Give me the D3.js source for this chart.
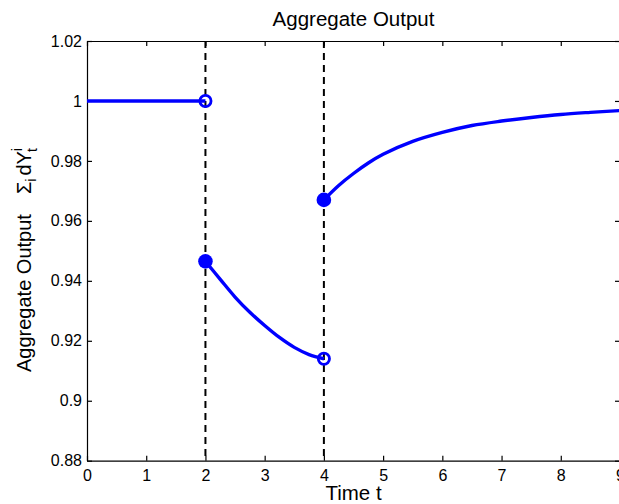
<!doctype html>
<html lang="en">
  <head>
    <meta charset="UTF-8" />
    <title>Aggregate Output</title>
    <script src="https://unpkg.com/d3@7.9.0/dist/d3.min.js"></script>
    <style>
      body {
        margin: 0;
        background: #fff;
      }
      svg {
        font-family: 'Liberation Sans', Arial, Helvetica, sans-serif;
      }
      .axis path,
      .axis line {
        stroke: #000;
        stroke-width: 1.2px;
      }
      .axis text {
        font-size: 16px;
        fill: #000;
      }
    </style>
  </head>
  <body>
    <div id="chart"></div>
    <script>
      // before the first shock
      const preTime = [0, 2];
      const preOutput = [1, 1];

      // between the two shocks
      const midTime = [2, 2.25, 2.5, 2.75, 3, 3.25, 3.5, 3.75, 4];
      const midOutput = [0.9465, 0.9405, 0.9346, 0.9295, 0.9251, 0.9211, 0.9178, 0.9154, 0.914];

      // after the second shock
      const postTime = [4, 4.25, 4.5, 4.75, 5, 5.5, 6, 6.5, 7, 7.5, 8, 8.5, 9];
      const postOutput = [0.967, 0.9718, 0.9758, 0.9793, 0.9822, 0.9865, 0.9895, 0.9918, 0.9933, 0.9945, 0.9955, 0.9962, 0.9968];

      const shockTimes = [2, 4];
      const xTicks = [0, 1, 2, 3, 4, 5, 6, 7, 8, 9];
      const yTicks = [0.88, 0.9, 0.92, 0.94, 0.96, 0.98, 1, 1.02];

      const width = 619;
      const height = 504;
      const plot = { left: 87, right: 620, top: 41, bottom: 460.7 };
      const blue = '#0000ff';

      const svg = d3
        .select('#chart')
        .append('svg')
        .attr('width', width)
        .attr('height', height);

      const x = d3.scaleLinear().domain([0, 9]).range([plot.left, plot.right]);
      const y = d3.scaleLinear().domain([0.88, 1.02]).range([plot.bottom, plot.top]);

      // box and inward ticks, matlab style
      svg
        .append('g')
        .attr('class', 'axis')
        .attr('transform', `translate(0,${plot.bottom})`)
        .call(
          d3.axisBottom(x).tickValues(xTicks).tickFormat(d3.format('d'))
            .tickSizeInner(-5).tickSizeOuter(0).tickPadding(9),
        );

      svg
        .append('g')
        .attr('class', 'axis')
        .attr('transform', `translate(0,${plot.top})`)
        .call(
          d3.axisTop(x).tickValues(xTicks).tickFormat('')
            .tickSizeInner(-5).tickSizeOuter(0),
        );

      svg
        .append('g')
        .attr('class', 'axis')
        .attr('transform', `translate(${plot.left},0)`)
        .call(
          d3.axisLeft(y).tickValues(yTicks).tickFormat((d) => String(+d.toFixed(2)))
            .tickSizeInner(-5).tickSizeOuter(0).tickPadding(5),
        );

      svg
        .append('g')
        .attr('class', 'axis')
        .attr('transform', `translate(${plot.right},0)`)
        .call(
          d3.axisRight(y).tickValues(yTicks).tickFormat('')
            .tickSizeInner(-5).tickSizeOuter(0),
        );

      // dashed lines at the shocks
      svg
        .selectAll('.shock')
        .data(shockTimes)
        .enter()
        .append('line')
        .attr('class', 'shock')
        .attr('x1', (d) => x(d))
        .attr('x2', (d) => x(d))
        .attr('y1', plot.top)
        .attr('y2', plot.bottom)
        .attr('stroke', '#000')
        .attr('stroke-width', 2)
        .attr('stroke-dasharray', '7,5');

      const line = d3
        .line()
        .x((d) => x(d[0]))
        .y((d) => y(d[1]))
        .curve(d3.curveCatmullRom.alpha(0.5));

      const segments = [
        d3.zip(preTime, preOutput),
        d3.zip(midTime, midOutput),
        d3.zip(postTime, postOutput),
      ];

      svg
        .selectAll('.seg')
        .data(segments)
        .enter()
        .append('path')
        .attr('class', 'seg')
        .attr('d', line)
        .attr('fill', 'none')
        .attr('stroke', blue)
        .attr('stroke-width', 3.4);

      // open circles at the end of a segment, filled dots at the start
      const openPts = [
        [preTime[preTime.length - 1], preOutput[preOutput.length - 1]],
        [midTime[midTime.length - 1], midOutput[midOutput.length - 1]],
      ];
      const filledPts = [
        [midTime[0], midOutput[0]],
        [postTime[0], postOutput[0]],
      ];

      svg
        .selectAll('.open')
        .data(openPts)
        .enter()
        .append('circle')
        .attr('cx', (d) => x(d[0]))
        .attr('cy', (d) => y(d[1]))
        .attr('r', 5.6)
        .attr('fill', 'none')
        .attr('stroke', blue)
        .attr('stroke-width', 2.8);

      svg
        .selectAll('.dot')
        .data(filledPts)
        .enter()
        .append('circle')
        .attr('cx', (d) => x(d[0]))
        .attr('cy', (d) => y(d[1]))
        .attr('r', 7.3)
        .attr('fill', blue);

      // title and axis labels
      svg
        .append('text')
        .attr('x', (plot.left + plot.right) / 2)
        .attr('y', 26)
        .attr('text-anchor', 'middle')
        .style('font-size', '20.5px')
        .text('Aggregate Output');

      svg
        .append('text')
        .attr('x', (plot.left + plot.right) / 2)
        .attr('y', 500)
        .attr('text-anchor', 'middle')
        .style('font-size', '20.5px')
        .text('Time t');

      const ylab = svg
        .append('text')
        .attr('transform', 'translate(31,372) rotate(-90)')
        .style('font-size', '20px');
      ylab.append('tspan').text('Aggregate Output');
      ylab.append('tspan').attr('dx', 20).text('\u03A3');
      ylab.append('tspan').attr('dy', 5).style('font-size', '14px').text('i');
      ylab.append('tspan').attr('dy', -5).attr('dx', 3).text('dY');
      ylab.append('tspan').attr('dy', -9).style('font-size', '14px').text('i');
      ylab.append('tspan').attr('dy', 15).attr('dx', -4).style('font-size', '14px').text('t');
    </script>
  </body>
</html>
